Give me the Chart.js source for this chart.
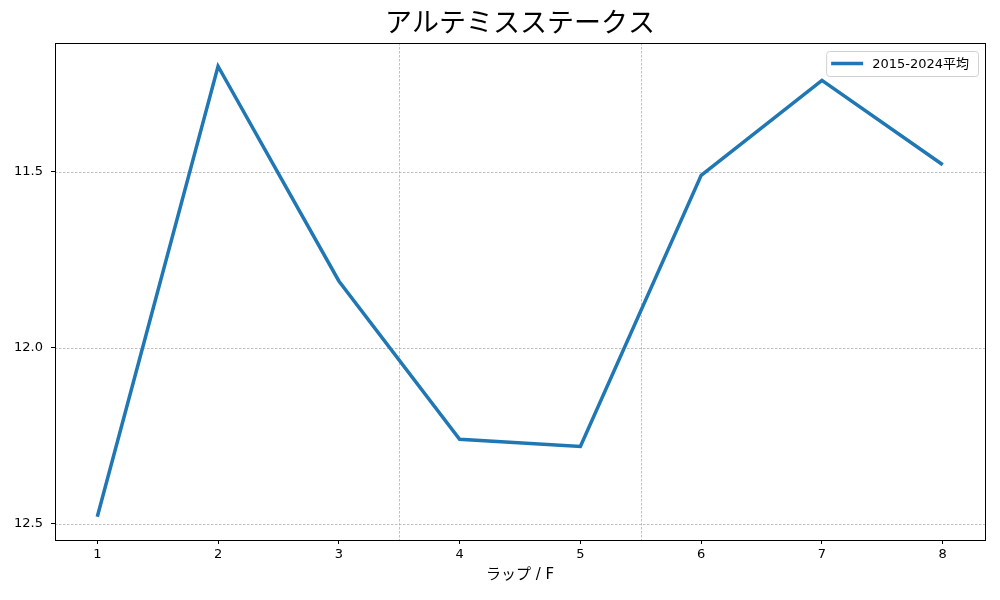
<!DOCTYPE html>
<html>
<head>
<meta charset="utf-8">
<script src="https://cdn.jsdelivr.net/npm/chart.js@4/dist/chart.umd.min.js"></script>
<style>
html,body{margin:0;padding:0;background:#fff;}
#wrap{width:1000px;height:600px;position:relative;}
</style>
</head>
<body>
<div id="wrap"><canvas id="c" width="1000" height="600"></canvas></div>
<script>
const titleText = "アルテミスステークス";
const xLabel = "ラップ / F";
const seriesName = "2015-2024平均";
const laps = [1, 2, 3, 4, 5, 6, 7, 8];
const lapTimes = [12.48, 11.20, 11.81, 12.26, 12.28, 11.51, 11.24, 11.48];
const yTicks = [11.5, 12.0, 12.5];
const sectionLines = [3.5, 5.5];

const FONT = "'DejaVu Sans', 'Noto Sans CJK JP', sans-serif";
const COLOR = "#1f77b4";

const decor = {
  id: 'decor',
  beforeDatasetsDraw(chart) {
    const {ctx, chartArea: a, scales: {x, y}} = chart;
    ctx.save();
    ctx.strokeStyle = "#b0b0b0";
    ctx.lineWidth = 0.8;
    ctx.setLineDash([2.5, 1.5]);
    yTicks.forEach(v => {
      const py = Math.round(y.getPixelForValue(v)) + 0.5;
      ctx.beginPath(); ctx.moveTo(a.left, py); ctx.lineTo(a.right, py); ctx.stroke();
    });
    sectionLines.forEach(v => {
      const px = Math.round(x.getPixelForValue(v)) + 0.5;
      ctx.beginPath(); ctx.moveTo(px, a.top); ctx.lineTo(px, a.bottom); ctx.stroke();
    });
    ctx.restore();
  },
  afterDatasetsDraw(chart) {
    const {ctx, chartArea: a} = chart;
    ctx.save();
    // frame
    ctx.strokeStyle = "#000";
    ctx.lineWidth = 1;
    ctx.strokeRect(Math.round(a.left) + 0.5, Math.round(a.top) + 0.5, Math.round(a.right - a.left), Math.round(a.bottom - a.top));
    // title
    ctx.fillStyle = "#000";
    ctx.textAlign = "center";
    ctx.textBaseline = "middle";
    ctx.font = "27px " + FONT;
    ctx.fillText(titleText, (a.left + a.right) / 2, 25);
    // x axis label
    ctx.font = "15px " + FONT;
    ctx.fillText(xLabel, (a.left + a.right) / 2, 575);
    // legend
    ctx.font = "13px " + FONT;
    const tw = ctx.measureText(seriesName).width;
    const bw = 8 + 32 + 9 + tw + 6;
    const bx = a.right - 7 - bw, by = a.top + 8, bh = 25;
    ctx.beginPath();
    if (ctx.roundRect) ctx.roundRect(bx + 0.5, by + 0.5, bw, bh, 3); else ctx.rect(bx + 0.5, by + 0.5, bw, bh);
    ctx.fillStyle = "rgba(255,255,255,0.8)";
    ctx.fill();
    ctx.strokeStyle = "#d0d0d0";
    ctx.stroke();
    ctx.strokeStyle = COLOR;
    ctx.lineWidth = 3.5;
    ctx.beginPath();
    ctx.moveTo(bx + 5, by + bh / 2); ctx.lineTo(bx + 37, by + bh / 2); ctx.stroke();
    ctx.fillStyle = "#000";
    ctx.textAlign = "left";
    ctx.fillText(seriesName, bx + 46, by + bh / 2 + 1);
    ctx.restore();
  }
};

new Chart(document.getElementById('c'), {
  type: 'line',
  data: {
    datasets: [{
      label: seriesName,
      data: laps.map((l, i) => ({x: l, y: lapTimes[i]})),
      borderColor: COLOR,
      backgroundColor: COLOR,
      borderWidth: 3.5,
      pointRadius: 0,
      tension: 0,
      fill: false
    }]
  },
  options: {
    responsive: false,
    animation: false,
    devicePixelRatio: 1,
    layout: {padding: {top: 43, right: 15, left: 0, bottom: 0}},
    plugins: {legend: {display: false}, title: {display: false}, tooltip: {enabled: false}},
    scales: {
      x: {
        type: 'linear',
        min: 0.65, max: 8.35,
        afterBuildTicks: s => { s.ticks = laps.map(v => ({value: v})); },
        afterFit: s => { s.height = 60; },
        grid: {drawOnChartArea: false, drawTicks: true, tickLength: 4, tickColor: '#000', color: '#000'},
        border: {display: true, color: '#000', width: 1},
        ticks: {color: '#000', font: {family: FONT, size: 13}, padding: 3, maxRotation: 0,
          callback: v => String(v)}
      },
      y: {
        type: 'linear',
        reverse: true,
        min: 11.134, max: 12.546,
        afterBuildTicks: s => { s.ticks = yTicks.map(v => ({value: v})); },
        afterFit: s => { s.width = 55; },
        grid: {drawOnChartArea: false, drawTicks: true, tickLength: 4, tickColor: '#000', color: '#000'},
        border: {display: true, color: '#000', width: 1},
        ticks: {color: '#000', font: {family: FONT, size: 13}, padding: 8,
          callback: v => Number(v).toFixed(1)}
      }
    }
  },
  plugins: [decor]
});
</script>
</body>
</html>
